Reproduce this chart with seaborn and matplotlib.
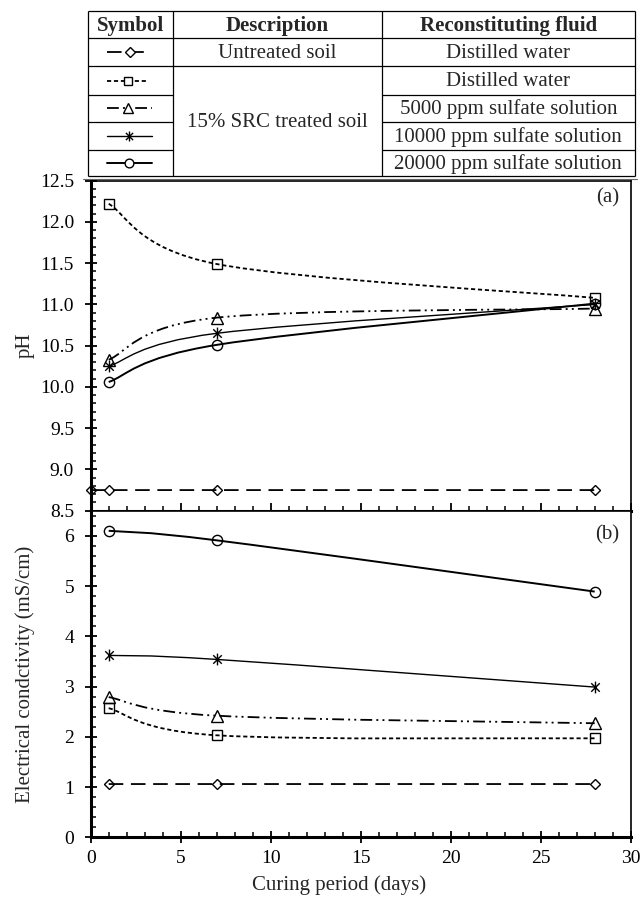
import numpy as np
import pandas as pd
import matplotlib
matplotlib.use("Agg")
import matplotlib.pyplot as plt
import seaborn as sns
from matplotlib.path import Path
from matplotlib.patches import PathPatch
from matplotlib.ticker import MultipleLocator, FormatStrFormatter

# ---------------- data ----------------
days = [1, 7, 28]
ph_untreated_days = [0, 1, 7, 28]
ph_untreated = [8.75, 8.75, 8.75, 8.75]
ph_dw = [12.22, 11.49, 11.08]
ph_5000 = [10.33, 10.84, 10.95]
ph_10000 = [10.25, 10.65, 11.00]
ph_20000 = [10.06, 10.51, 11.01]

ec_untreated = [1.06, 1.06, 1.06]
ec_dw = [2.57, 2.03, 1.97]
ec_5000 = [2.79, 2.42, 2.27]
ec_10000 = [3.62, 3.54, 2.99]
ec_20000 = [6.10, 5.91, 4.89]

symbols_col = ["Symbol", "Description", "Reconstituting fluid"]
descriptions = ["Untreated soil", "15% SRC treated soil"]
fluids = ["Distilled water", "Distilled water", "5000 ppm sulfate solution",
          "10000 ppm sulfate solution", "20000 ppm sulfate solution"]

# ---------------- style ----------------
sns.set_theme(style="ticks")
plt.rcParams["font.family"] = ["Liberation Serif", "DejaVu Serif"]
plt.rcParams["lines.scale_dashes"] = False
plt.rcParams["axes.edgecolor"] = "black"
plt.rcParams["xtick.color"] = "black"
plt.rcParams["ytick.color"] = "black"

# asterisk marker: vertical bar plus an X
d = 0.72
ASTER = Path([(0, -1), (0, 1), (-d, -d), (d, d), (-d, d), (d, -d)],
             [Path.MOVETO, Path.LINETO, Path.MOVETO, Path.LINETO,
              Path.MOVETO, Path.LINETO])

styles = [
    dict(marker="D", ms=5.6, dashes=(10.5, 5.5), lw=1.3),              # untreated
    dict(marker="s", ms=7.4, dashes=(3.0, 2.0), lw=1.3),               # DW
    dict(marker="^", ms=8.0, dashes=(8.5, 3, 1.4, 3, 1.4, 3), lw=1.3),  # 5000
    dict(marker=ASTER, ms=8.5, dashes=None, lw=1.0),                   # 10000
    dict(marker="o", ms=7.4, dashes=None, lw=1.4),                     # 20000
]

FS = 14      # tick labels
FL = 15      # axis labels / table


def smooth_path(x, y):
    P = np.column_stack([x, y]).astype(float)
    n = len(P)
    verts = [P[0]]
    codes = [Path.MOVETO]
    for i in range(n - 1):
        p_prev = P[i - 1] if i > 0 else P[i]
        p_next = P[i + 2] if i + 2 < n else P[i + 1]
        c1 = P[i] + (P[i + 1] - p_prev) / 6.0
        c2 = P[i + 1] - (p_next - P[i]) / 6.0
        verts += [c1, c2, P[i + 1]]
        codes += [Path.CURVE4] * 3
    return Path(verts, codes)


def draw_series(ax, x, y, st):
    ls = "-" if st["dashes"] is None else (0, st["dashes"])
    patch = PathPatch(smooth_path(x, y), fill=False, edgecolor="black",
                      lw=st["lw"], linestyle=ls, capstyle="butt")
    ax.add_patch(patch)
    df = pd.DataFrame({"x": x, "y": y})
    sns.lineplot(data=df, x="x", y="y", ax=ax, marker=st["marker"],
                 markersize=st["ms"], markerfacecolor="none",
                 markeredgecolor="black", markeredgewidth=1.0,
                 linestyle="none", color="black", estimator=None,
                 sort=False, clip_on=False, zorder=5)


W, H = 644, 900
fig = plt.figure(figsize=(W / 100, H / 100), dpi=100)

L, R = 90.7, 630.7
def rect(top, bottom):
    return [L / W, 1 - bottom / H, (R - L) / W, (bottom - top) / H]

ax1 = fig.add_axes(rect(180.7, 510.7))
ax2 = fig.add_axes(rect(510.7, 837.3))

ph_sets = [(ph_untreated_days, ph_untreated), (days, ph_dw), (days, ph_5000),
           (days, ph_10000), (days, ph_20000)]
ec_sets = [(days, ec_untreated), (days, ec_dw), (days, ec_5000),
           (days, ec_10000), (days, ec_20000)]

for (x, y), st in zip(ph_sets, styles):
    draw_series(ax1, x, y, st)
for (x, y), st in zip(ec_sets, styles):
    draw_series(ax2, x, y, st)

for ax in (ax1, ax2):
    ax.set_xlim(0, 30)
    ax.xaxis.set_major_locator(MultipleLocator(5))
    ax.xaxis.set_minor_locator(MultipleLocator(1))
    for s in ("left", "bottom"):
        ax.spines[s].set_linewidth(2.2)
    for s in ("top", "right"):
        ax.spines[s].set_linewidth(1.2)
    ax.tick_params(axis="y", which="major", direction="inout", length=9,
                   width=1.3, labelsize=FS, pad=7.5, right=False)
    ax.tick_params(axis="y", which="minor", direction="in", length=3.5,
                   width=1.1, right=False)
    ax.set_xlabel("")
    ax.set_ylabel("")

ax1.set_ylim(8.5, 12.5)
ax1.yaxis.set_major_locator(MultipleLocator(0.5))
ax1.yaxis.set_minor_locator(MultipleLocator(0.1))
ax1.yaxis.set_major_formatter(FormatStrFormatter("%.1f"))
ax1.tick_params(axis="x", which="major", direction="in", length=6, width=1.3,
                labelbottom=False, top=False)
ax1.tick_params(axis="x", which="minor", direction="in", length=3.5, width=1.1,
                top=False)

ax2.set_ylim(0, 6.5)
ax2.yaxis.set_major_locator(MultipleLocator(1))
ax2.yaxis.set_minor_locator(MultipleLocator(0.2))
ax2.yaxis.set_major_formatter(FormatStrFormatter("%d"))
ax2.tick_params(axis="x", which="major", direction="inout", length=9,
                width=1.3, labelsize=FS, pad=5, top=False)
ax2.tick_params(axis="x", which="minor", direction="in", length=3.5, width=1.1,
                top=False)

ax1.set_ylabel("pH", fontsize=FL)
ax1.yaxis.set_label_coords((35 - L) / (R - L), 0.5)
ax2.set_ylabel("Electrical condctivity (mS/cm)", fontsize=FL)
ax2.yaxis.set_label_coords((35 - L) / (R - L), 0.5)
ax2.set_xlabel("Curing period (days)", fontsize=FL)
ax2.xaxis.set_label_coords((339 - L) / (R - L), -(875 - 837.3) / (837.3 - 510.7))

ax1.text((619 - L) / (R - L), 1 - (198 - 180.7) / 330, "(a)", transform=ax1.transAxes,
         ha="right", va="center", fontsize=FL)
ax2.text((619 - L) / (R - L), 1 - (535 - 510.7) / 326.6, "(b)", transform=ax2.transAxes,
         ha="right", va="center", fontsize=FL)

# ---------------- table (pixel coordinates) ----------------
axt = fig.add_axes([0, 0, 1, 1], zorder=-1)
axt.set_xlim(0, W)
axt.set_ylim(H, 0)
axt.axis("off")

cx = [88.3, 173.3, 381.7, 635.0]
ry = [10.7, 38.3, 66.3, 94.7, 122.0, 149.7, 176.3]
lk = dict(color="black", lw=0.9, solid_capstyle="butt")
for xv in cx:
    axt.plot([xv, xv], [ry[0], ry[-1]], **lk)
for i, yv in enumerate(ry):
    if i in (3, 4, 5):
        axt.plot([cx[0], cx[1]], [yv, yv], **lk)
        axt.plot([cx[2], cx[3]], [yv, yv], **lk)
    else:
        axt.plot([cx[0], cx[3]], [yv, yv], **lk)
axt.plot([83, cx[3] + 2], [178.8, 178.8], color="0.4", lw=0.8)

for j, h in enumerate(symbols_col):
    axt.text((cx[j] + cx[j + 1]) / 2, (ry[0] + ry[1]) / 2 + 1, h, ha="center",
             va="center", fontsize=FL, fontweight="bold")

axt.text((cx[1] + cx[2]) / 2, (ry[1] + ry[2]) / 2 + 1, descriptions[0],
         ha="center", va="center", fontsize=FL)
axt.text((cx[1] + cx[2]) / 2, (ry[2] + ry[6]) / 2 + 1, descriptions[1],
         ha="center", va="center", fontsize=FL)
for i, f in enumerate(fluids):
    axt.text((cx[2] + cx[3]) / 2, (ry[i + 1] + ry[i + 2]) / 2 + 1, f,
             ha="center", va="center", fontsize=FL)

sym_x0, sym_x1 = [106.7, 106.7, 106.7, 106.7, 106.7], [148.5, 148.5, 152.0, 151.7, 151.7]
sym_mx = [130.0, 128.3, 128.5, 129.0, 129.0]
for i, st in enumerate(styles):
    yc = (ry[i + 1] + ry[i + 2]) / 2
    ls = "-" if st["dashes"] is None else (0, st["dashes"])
    axt.plot([sym_x0[i], sym_x1[i]], [yc, yc], color="black", lw=st["lw"],
             linestyle=ls)
    axt.plot([sym_mx[i]], [yc], marker=st["marker"], ms=st["ms"] * 0.85,
             mfc="white", mec="black", mew=1.0, linestyle="none")

fig.savefig("out.png", dpi=100)
